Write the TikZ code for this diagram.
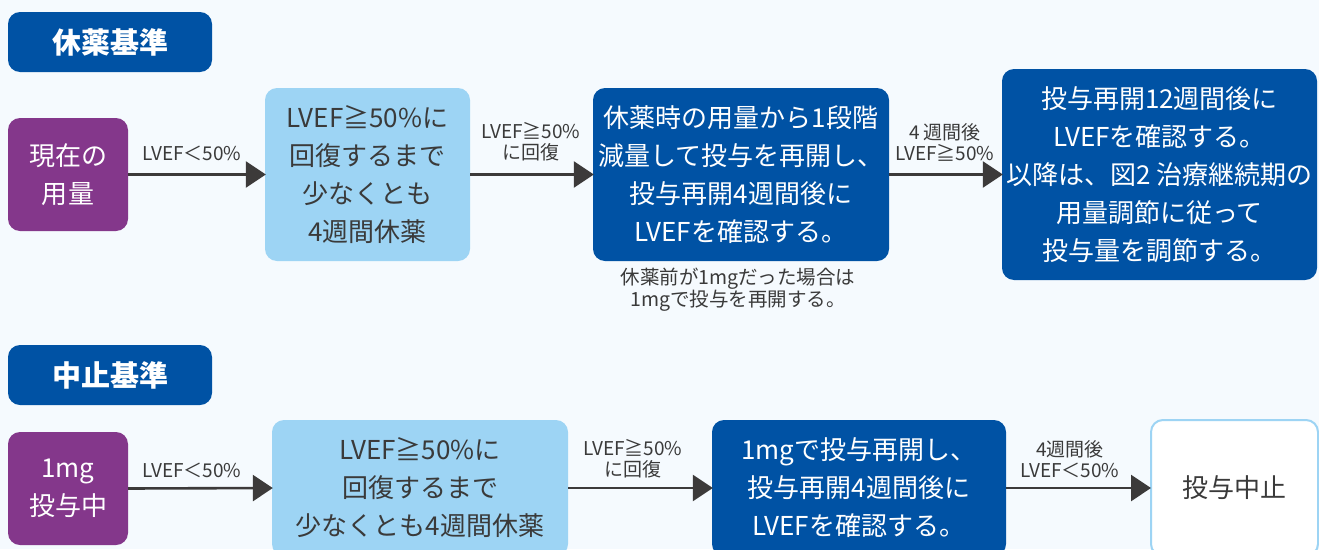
\documentclass[tikz,border=0pt]{standalone}
\usepackage{fontspec}
\setmainfont{Noto Sans CJK JP}
\usetikzlibrary{arrows.meta}
\definecolor{bgc}{HTML}{F5FAFE}
\definecolor{dblue}{HTML}{0052A4}
\definecolor{purp}{HTML}{84378B}
\definecolor{lblue}{HTML}{9DD4F4}
\definecolor{txtg}{HTML}{3A3A3A}
\definecolor{arrc}{HTML}{3C3A3A}
\tikzset{
  box/.style={rounded corners=12pt, inner sep=0pt, align=center, font=\fontsize{26}{38}\selectfont},
  titlebox/.style={box, fill=dblue, text=white, minimum width=204pt, minimum height=60pt, font=\fontsize{29}{34}\selectfont\bfseries},
  purpbox/.style={box, fill=purp, text=white},
  lbbox/.style={box, fill=lblue, text=txtg},
  dbbox/.style={box, fill=dblue, text=white},
  whbox/.style={box, fill=white, draw=lblue, line width=2pt, text=txtg},
  lbl/.style={font=\fontsize{19}{21}\selectfont, text=txtg, align=center, inner sep=0pt},
  notelbl/.style={font=\fontsize{19.5}{22}\selectfont, text=txtg, align=center, inner sep=0pt},
  arr/.style={draw=arrc, line width=2.6pt, -{Triangle[length=20pt,width=26pt]}, shorten >=-1pt},
}
\begin{document}
\begin{tikzpicture}[x=1pt,y=-1pt]
\clip (0,0) rectangle (1319,549);
\fill[bgc] (0,0) rectangle (1319,549);
% titles
\node[titlebox] (t1) at (110,42) {休薬基準};
\node[titlebox] (t2) at (110,375) {中止基準};
% row 1
\node[purpbox, minimum width=120pt, minimum height=113pt] (a1) at (68,174.5) {現在の\\用量};
\node[lbbox, minimum width=205pt, minimum height=173pt] (b1) at (367.5,174.5) {LVEF≧50\%に\\回復するまで\\少なくとも\\4週間休薬};
\node[dbbox, minimum width=296pt, minimum height=173pt] (c1) at (741,174.5) {休薬時の用量から1段階\\減量して投与を再開し、\\投与再開4週間後に\\LVEFを確認する。};
\node[dbbox, minimum width=315pt, minimum height=211pt] (d1) at (1159.5,174.5) {投与再開12週間後に\\LVEFを確認する。\\以降は、図2 治療継続期の\\用量調節に従って\\投与量を調節する。};
\node[notelbl] (n1) at (738,290) {休薬前が1mgだった場合は\\1mgで投与を再開する。};
\draw[arr] (a1.east) -- (b1.west);
\draw[arr] (b1.east) -- (c1.west);
\draw[arr] (c1.east) -- (d1.west);
\node[lbl] (l1) at (192,153) {LVEF＜50\%};
\node[lbl] (l2) at (531,142) {LVEF≧50\%\\に回復};
\node[lbl] (l3) at (945,142) {4 週間後\\LVEF≧50\%};
% row 2
\node[purpbox, minimum width=120pt, minimum height=113pt] (a2) at (68,488.5) {1mg\\投与中};
\node[lbbox, minimum width=296pt, minimum height=136pt] (b2) at (420,488) {LVEF≧50\%に\\回復するまで\\少なくとも4週間休薬};
\node[dbbox, minimum width=294pt, minimum height=136pt] (c2) at (859,488) {1mgで投与再開し、\\投与再開4週間後に\\LVEFを確認する。};
\node[whbox, minimum width=167pt, minimum height=136pt] (d2) at (1234.5,488) {投与中止};
\draw[arr] (a2.east) -- (b2.west);
\draw[arr] (b2.east) -- (c2.west);
\draw[arr] (c2.east) -- (d2.west);
\node[lbl] (m1) at (192,470) {LVEF＜50\%};
\node[lbl] (m2) at (633,459) {LVEF≧50\%\\に回復};
\node[lbl] (m3) at (1070,459) {4週間後\\LVEF＜50\%};
\end{tikzpicture}
\end{document}
